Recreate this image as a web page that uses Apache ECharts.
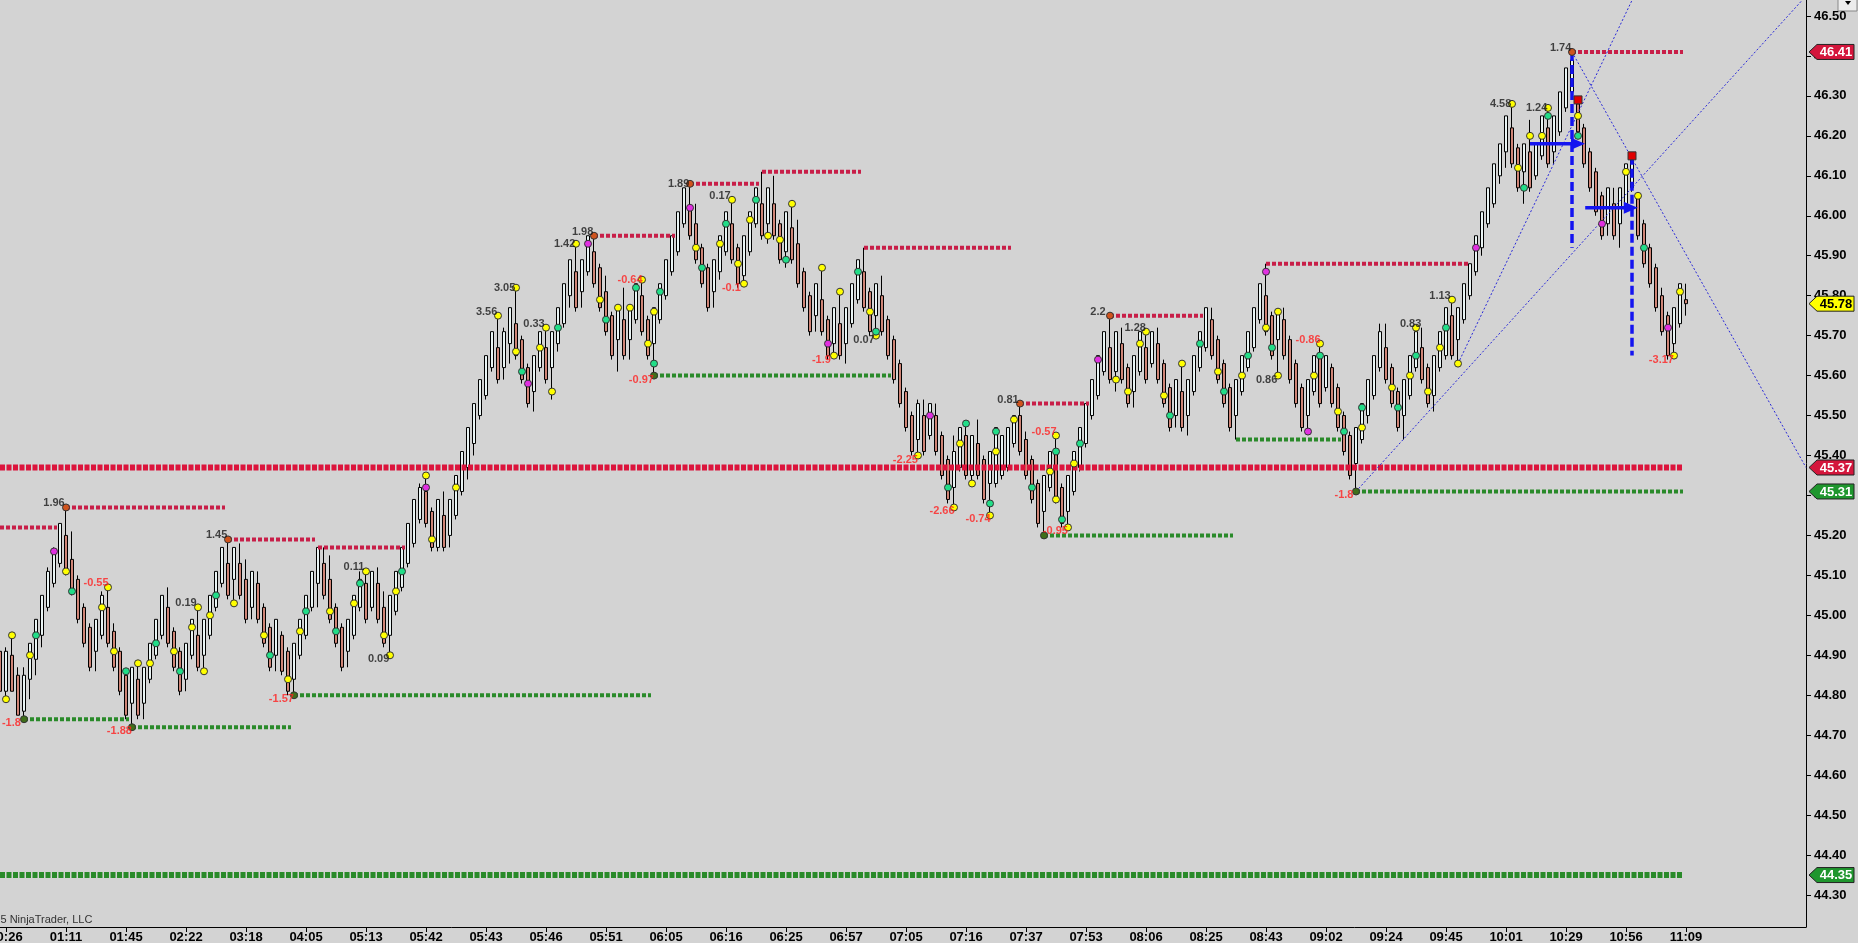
<!DOCTYPE html>
<html>
<head>
<meta charset="utf-8">
<script src="https://cdn.jsdelivr.net/npm/echarts@6/dist/echarts.min.js"></script>
<style>
html,body{margin:0;padding:0;background:#d3d3d3;overflow:hidden;}
#chart{width:1858px;height:943px;}
</style>
</head>
<body>
<div id="chart"></div>
<script>
// ---------- DATA ----------
const tickLabels = ["00:26","01:11","01:45","02:22","03:18","04:05","05:13","05:42","05:43","05:46","05:51","06:05","06:16","06:25","06:57","07:05","07:16","07:37","07:53","08:06","08:25","08:43","09:02","09:24","09:45","10:01","10:29","10:56","11:09"];
const yTicks = [44.30,44.40,44.50,44.60,44.70,44.80,44.90,45.00,45.10,45.20,45.30,45.40,45.50,45.60,45.70,45.80,45.90,46.00,46.10,46.20,46.30,46.40,46.50];

const opens = [
44.91,44.81,44.90,44.85,44.76,44.84,44.89,44.95,45.02,45.08,
45.13,45.20,45.14,45.09,45.02,44.97,44.91,44.95,45.02,44.96,
44.91,44.85,44.78,44.84,44.78,44.84,44.90,44.95,45.02,44.96,
44.91,44.84,44.90,44.95,44.90,44.95,45.02,45.08,45.13,45.09,
45.13,45.09,45.02,45.08,45.02,44.97,44.90,44.95,44.91,44.84,
44.90,44.95,45.02,45.08,45.13,45.09,45.02,44.97,44.91,44.95,
45.02,45.08,45.02,45.08,45.02,44.95,45.01,45.07,45.13,45.18,
45.24,45.31,45.26,45.17,45.25,45.20,45.25,45.31,45.37,45.43,
45.50,45.55,45.62,45.67,45.62,45.68,45.73,45.69,45.62,45.56,
45.62,45.67,45.62,45.68,45.73,45.80,45.86,45.81,45.86,45.91,
45.87,45.81,45.75,45.69,45.74,45.69,45.74,45.80,45.74,45.68,
45.74,45.80,45.86,45.91,45.98,46.02,45.98,45.92,45.87,45.81,
45.86,45.91,45.98,45.92,45.85,45.91,45.98,46.03,45.98,46.03,
45.98,45.91,45.97,45.93,45.86,45.80,45.75,45.79,45.74,45.68,
45.73,45.68,45.73,45.79,45.86,45.81,45.75,45.80,45.74,45.69,
45.63,45.56,45.50,45.44,45.50,45.45,45.50,45.45,45.39,45.32,
45.37,45.45,45.35,45.43,45.39,45.33,45.33,45.35,45.37,45.43,
45.50,45.44,45.39,45.33,45.26,45.32,45.41,45.32,45.26,45.31,
45.37,45.43,45.50,45.55,45.61,45.67,45.61,45.68,45.62,45.56,
45.61,45.67,45.63,45.68,45.63,45.57,45.50,45.56,45.50,45.56,
45.62,45.67,45.74,45.69,45.63,45.57,45.50,45.56,45.62,45.67,
45.74,45.80,45.75,45.69,45.74,45.69,45.63,45.57,45.50,45.56,
45.65,45.57,45.62,45.57,45.50,45.45,45.38,45.44,45.50,45.55,
45.62,45.67,45.62,45.56,45.50,45.55,45.62,45.67,45.62,45.55,
45.62,45.65,45.75,45.69,45.74,45.80,45.86,45.92,45.98,46.03,
46.10,46.16,46.22,46.17,46.11,46.16,46.10,46.15,46.22,46.16,
46.21,46.27,46.31,46.28,46.22,46.16,46.11,46.05,45.98,46.03,
45.98,46.03,46.07,46.05,45.98,45.92,45.87,45.80,45.75,45.68,
45.73,45.79];
const closes = [
44.81,44.91,44.81,44.75,44.85,44.93,44.99,45.05,45.11,45.16,
45.23,45.11,45.06,44.99,44.93,44.87,44.99,45.05,44.93,44.87,
44.81,44.75,44.87,44.75,44.87,44.93,44.99,45.05,44.93,44.87,
44.81,44.93,44.99,44.87,44.99,45.05,45.11,45.17,45.05,45.17,
45.05,44.99,45.11,44.99,44.93,44.87,44.99,44.86,44.81,44.93,
44.99,45.05,45.11,45.17,45.05,44.99,44.93,44.87,44.99,45.05,
45.09,44.99,45.11,44.99,44.93,45.05,45.11,45.17,45.23,45.29,
45.32,45.23,45.17,45.29,45.17,45.29,45.35,45.41,45.47,45.53,
45.59,45.65,45.71,45.59,45.71,45.77,45.65,45.59,45.53,45.65,
45.71,45.59,45.71,45.77,45.83,45.89,45.77,45.89,45.95,45.83,
45.77,45.71,45.65,45.77,45.65,45.77,45.83,45.71,45.65,45.77,
45.83,45.89,45.95,46.01,46.07,45.95,45.89,45.83,45.77,45.89,
45.95,46.01,45.89,45.83,45.95,46.01,46.07,45.95,46.07,45.95,
45.89,46.01,45.89,45.83,45.77,45.71,45.83,45.71,45.65,45.77,
45.65,45.77,45.83,45.89,45.77,45.71,45.83,45.71,45.65,45.59,
45.53,45.47,45.41,45.53,45.41,45.53,45.41,45.35,45.29,45.41,
45.47,45.35,45.45,45.35,45.29,45.41,45.47,45.45,45.47,45.50,
45.41,45.35,45.29,45.23,45.35,45.41,45.29,45.23,45.35,45.41,
45.47,45.53,45.59,45.65,45.71,45.59,45.71,45.59,45.53,45.65,
45.71,45.59,45.71,45.59,45.53,45.47,45.59,45.47,45.59,45.65,
45.71,45.77,45.65,45.59,45.53,45.47,45.59,45.65,45.71,45.77,
45.83,45.71,45.65,45.76,45.65,45.59,45.53,45.47,45.59,45.65,
45.53,45.65,45.53,45.47,45.41,45.35,45.47,45.53,45.59,45.65,
45.71,45.59,45.53,45.47,45.59,45.65,45.71,45.59,45.53,45.65,
45.71,45.77,45.65,45.77,45.83,45.88,45.95,46.01,46.07,46.13,
46.18,46.25,46.13,46.07,46.18,46.07,46.18,46.25,46.13,46.25,
46.31,46.37,46.39,46.21,46.13,46.07,46.01,45.95,46.07,45.95,
46.07,46.13,46.14,45.95,45.88,45.83,45.77,45.71,45.65,45.77,
45.83,45.78];
const highs = [
44.94,44.92,44.95,44.87,44.87,44.93,44.99,45.05,45.12,45.17,
45.23,45.27,45.21,45.10,45.03,44.98,44.99,45.06,45.07,44.98,
44.92,44.86,44.87,44.88,44.87,44.93,44.99,45.05,45.07,44.97,
44.92,44.93,44.99,45.02,44.99,45.05,45.11,45.17,45.19,45.17,
45.18,45.14,45.11,45.11,45.03,44.98,44.99,44.96,44.92,44.93,
44.99,45.05,45.11,45.17,45.17,45.15,45.03,44.98,44.99,45.05,
45.11,45.11,45.11,45.12,45.06,45.05,45.11,45.17,45.23,45.29,
45.33,45.35,45.27,45.29,45.31,45.29,45.35,45.41,45.47,45.53,
45.59,45.65,45.71,45.75,45.72,45.77,45.82,45.70,45.63,45.65,
45.71,45.72,45.71,45.77,45.83,45.89,45.93,45.89,45.95,45.95,
45.88,45.85,45.76,45.77,45.82,45.77,45.83,45.84,45.75,45.77,
45.83,45.89,45.95,46.01,46.07,46.08,46.03,45.93,45.88,45.89,
45.95,46.01,46.04,45.93,45.95,46.01,46.07,46.11,46.07,46.10,
45.99,46.01,46.03,45.99,45.87,45.81,45.83,45.87,45.75,45.77,
45.81,45.77,45.83,45.89,45.92,45.82,45.83,45.85,45.75,45.70,
45.64,45.57,45.51,45.54,45.54,45.53,45.53,45.46,45.40,45.45,
45.47,45.48,45.45,45.49,45.40,45.41,45.47,45.45,45.47,45.50,
45.53,45.46,45.40,45.34,45.35,45.41,45.45,45.33,45.35,45.41,
45.47,45.53,45.59,45.65,45.71,45.75,45.71,45.72,45.63,45.65,
45.71,45.71,45.71,45.72,45.64,45.58,45.59,45.63,45.59,45.65,
45.71,45.77,45.77,45.70,45.64,45.58,45.59,45.65,45.71,45.77,
45.83,45.88,45.76,45.76,45.77,45.70,45.64,45.58,45.59,45.65,
45.68,45.65,45.63,45.58,45.51,45.46,45.47,45.53,45.59,45.65,
45.73,45.73,45.63,45.57,45.59,45.65,45.72,45.72,45.63,45.65,
45.71,45.77,45.79,45.77,45.83,45.88,45.95,46.01,46.07,46.13,
46.18,46.25,46.28,46.18,46.18,46.24,46.18,46.25,46.27,46.25,
46.31,46.37,46.41,46.29,46.23,46.17,46.12,46.06,46.07,46.07,
46.07,46.13,46.15,46.05,45.99,45.93,45.88,45.82,45.76,45.77,
45.83,45.83];
const lows = [
44.80,44.79,44.81,44.75,44.74,44.79,44.85,44.92,45.01,45.07,
45.12,45.10,45.05,44.98,44.92,44.86,44.86,44.94,44.92,44.86,
44.80,44.74,44.72,44.74,44.74,44.83,44.89,44.94,44.92,44.86,
44.80,44.81,44.89,44.86,44.86,44.94,45.01,45.07,45.04,45.03,
45.04,44.98,44.99,44.98,44.92,44.86,44.86,44.85,44.80,44.80,
44.89,44.94,45.01,45.02,45.04,44.98,44.92,44.86,44.87,44.94,
45.01,44.98,45.01,44.98,44.92,44.90,45.00,45.06,45.12,45.17,
45.23,45.22,45.16,45.16,45.16,45.17,45.24,45.30,45.34,45.40,
45.49,45.54,45.61,45.58,45.59,45.63,45.64,45.58,45.52,45.51,
45.61,45.58,45.54,45.66,45.72,45.77,45.76,45.77,45.85,45.82,
45.76,45.70,45.64,45.61,45.64,45.64,45.73,45.70,45.64,45.60,
45.73,45.79,45.85,45.90,45.97,45.94,45.88,45.82,45.76,45.77,
45.84,45.90,45.88,45.82,45.83,45.90,45.97,45.94,45.93,45.94,
45.88,45.87,45.88,45.82,45.76,45.70,45.71,45.70,45.64,45.65,
45.64,45.63,45.72,45.78,45.76,45.70,45.70,45.70,45.64,45.58,
45.52,45.46,45.40,45.40,45.40,45.44,45.40,45.34,45.28,45.27,
45.36,45.34,45.33,45.34,45.28,45.25,45.32,45.34,45.36,45.42,
45.40,45.34,45.28,45.22,45.20,45.31,45.28,45.22,45.22,45.30,
45.36,45.42,45.49,45.54,45.60,45.58,45.56,45.58,45.52,45.52,
45.60,45.58,45.62,45.58,45.52,45.46,45.47,45.46,45.45,45.55,
45.61,45.66,45.64,45.58,45.52,45.46,45.44,45.55,45.61,45.66,
45.73,45.70,45.64,45.60,45.64,45.58,45.52,45.46,45.46,45.55,
45.52,45.56,45.52,45.46,45.40,45.34,45.31,45.43,45.48,45.54,
45.61,45.58,45.52,45.46,45.44,45.54,45.61,45.58,45.52,45.51,
45.61,45.64,45.64,45.63,45.73,45.79,45.85,45.90,45.97,46.02,
46.08,46.12,46.12,46.06,46.03,46.06,46.09,46.14,46.12,46.13,
46.20,46.26,46.30,46.20,46.12,46.06,46.00,45.94,45.95,45.94,
45.92,46.02,46.06,45.94,45.87,45.82,45.76,45.70,45.64,45.65,
45.72,45.75];

const yellowDots = [[1,44.79],[2,44.95],[5,44.90],[11,45.11],[17,45.02],[18,45.07],[19,44.91],[23,44.88],[25,44.88],[29,44.91],[32,44.97],[33,45.02],[34,44.86],[35,45.00],[39,45.03],[44,44.95],[48,44.84],[50,44.96],[55,45.01],[59,45.03],[61,45.11],[64,44.95],[65,44.90],[66,45.06],[71,45.35],[72,45.19],[76,45.32],[83,45.75],[86,45.82],[86,45.66],[90,45.67],[91,45.72],[92,45.56],[96,45.93],[100,45.79],[103,45.77],[105,45.77],[107,45.84],[108,45.68],[109,45.76],[116,45.92],[120,45.93],[122,46.04],[123,45.88],[124,45.83],[125,45.99],[128,45.95],[130,45.94],[132,46.03],[137,45.87],[139,45.65],[140,45.81],[145,45.76],[146,45.70],[153,45.40],[159,45.27],[160,45.43],[162,45.33],[165,45.25],[166,45.41],[169,45.49],[175,45.36],[176,45.45],[176,45.29],[178,45.22],[179,45.38],[186,45.59],[188,45.56],[190,45.68],[191,45.71],[194,45.55],[197,45.63],[203,45.61],[207,45.60],[211,45.72],[213,45.76],[213,45.60],[219,45.60],[220,45.68],[223,45.51],[227,45.47],[232,45.57],[235,45.60],[236,45.72],[238,45.56],[240,45.67],[242,45.79],[243,45.63],[252,46.28],[253,46.12],[255,46.20],[257,46.20],[258,46.27],[263,46.25],[271,46.11],[273,46.05],[279,45.65],[280,45.81]];
const greenDots = [[6,44.95],[12,45.06],[21,44.86],[26,44.93],[30,44.86],[36,45.05],[45,44.90],[51,45.01],[56,44.96],[60,45.08],[67,45.11],[87,45.61],[93,45.72],[101,45.74],[106,45.82],[109,45.63],[110,45.81],[117,45.87],[121,45.98],[126,46.04],[131,45.89],[143,45.86],[146,45.71],[158,45.32],[161,45.48],[165,45.28],[166,45.46],[172,45.32],[176,45.41],[177,45.24],[180,45.43],[195,45.50],[200,45.68],[204,45.56],[208,45.65],[212,45.67],[220,45.65],[224,45.46],[227,45.52],[233,45.52],[236,45.65],[241,45.72],[254,46.07],[258,46.25],[263,46.20],[274,45.92]];
const magentaDots = [[9,45.16],[71,45.32],[88,45.58],[98,45.93],[115,46.02],[138,45.68],[155,45.50],[183,45.64],[211,45.86],[218,45.46],[246,45.92],[267,45.98],[278,45.72]];
const swingHighDots = [[11,45.27],[38,45.19],[99,45.95],[115,46.08],[170,45.53],[185,45.75],[262,46.41]];
const swingLowDots = [[4,44.74],[22,44.72],[49,44.80],[109,45.60],[174,45.20],[226,45.31]];
const redSquares = [[263,46.29],[272,46.15]];

const blackLabels = [["1.96",9.0,45.28],["0.19",31,45.03],["1.45",36.1,45.20],["0.11",59,45.12],["0.09",63.1,44.89],["3.56",81.1,45.76],["3.05",84.1,45.82],["0.33",89,45.73],["1.42",94.1,45.93],["1.98",97.1,45.96],["1.89",113.1,46.08],["0.17",120,46.05],["0.07",144,45.69],["0.81",168,45.54],["2.2",183,45.76],["1.28",189.2,45.72],["0.86",211.1,45.59],["0.83",235.1,45.73],["1.13",240,45.80],["4.58",250.1,46.28],["1.24",256.1,46.27],["1.74",260.1,46.42]];
const redLabels = [["-1.8",1.9,44.73],["-0.55",16,45.08],["-1.88",19.9,44.71],["-1.57",46.9,44.79],["-0.64",105,45.84],["-0.97",106.9,45.59],["-0.1",121.9,45.82],["-1.9",136.9,45.64],["-2.25",150.9,45.39],["-2.66",157,45.26],["-0.74",163,45.24],["-0.57",174,45.46],["-0.95",175.9,45.21],["-0.86",218,45.69],["-1.8",224,45.30],["-3.17",276.9,45.64]];

// [startBar, endBar, price]
const redLevels = [[0,9.5,45.22],[11,37.5,45.27],[38,52.5,45.19],[53,67.5,45.17],[99,112.5,45.95],[115,126.5,46.08],[127,143.5,46.11],[144,168.5,45.92],[170,181.5,45.53],[185,200.5,45.75],[211,245,45.88],[262,280.5,46.41]];
const greenLevels = [[4,21.5,44.74],[22,48.5,44.72],[49,108.5,44.80],[109,148.5,45.60],[174,205.5,45.20],[206,223.5,45.44],[226,280.5,45.31]];
const majorRed = [0,280.5,45.37];
const majorGreen = [0,280.5,44.35];
// [x1, p1, x2, p2]
const trendLines = [[226,45.31,301,46.55],[243,45.63,280,46.79],[262,46.41,301,45.37]];
// [bar, topPrice, bottomPrice]
const vDashes = [[262,46.41,45.92],[272,46.15,45.65]];
// [fromBar, toBar, price]
const arrows = [[255,264.2,46.18],[264.2,273,46.02]];
// [price, fill, text color]
const priceTags = [[46.41,'#d4163c','#ffffff'],[45.78,'#ffff00','#000000'],[45.37,'#d4163c','#ffffff'],[45.31,'#1f962e','#ffffff'],[44.35,'#1f962e','#ffffff']];

// ---------- CHART ----------
const NB = 302;
const categories = Array.from({length: NB}, (_, i) => String(i));
const candleData = opens.map((o, i) => [o, closes[i], lows[i], highs[i]]);
const FONT = '"Liberation Sans", Arial, sans-serif';
const showTick = (i) => i >= 1 && (i - 1) % 10 === 0 && (i - 1) / 10 < tickLabels.length;

const series = [];
series.push({
  type: 'candlestick', xAxisIndex: 0, yAxisIndex: 0, data: candleData, barWidth: 3, z: 2,
  itemStyle: { color: '#eaf4f4', color0: '#cf8476', borderColor: '#000', borderColor0: '#000', borderWidth: 1 },
  silent: true, animation: false
});
function seg(x1, p1, x2, p2, ls, z) {
  series.push({ type: 'line', xAxisIndex: 1, yAxisIndex: 0, data: [[x1, p1], [x2, p2]], symbol: 'none', lineStyle: ls, z: z, silent: true, animation: false });
}
redLevels.forEach(l => seg(l[0], l[2], l[1], l[2], { color: '#c81e48', width: 4, type: [4, 2] }, 3));
greenLevels.forEach(l => seg(l[0], l[2], l[1], l[2], { color: '#2a8a2a', width: 4, type: [4, 2] }, 3));
seg(majorRed[0], majorRed[2], majorRed[1], majorRed[2], { color: '#dc143c', width: 6, type: [5, 1.5] }, 3);
seg(majorGreen[0], majorGreen[2], majorGreen[1], majorGreen[2], { color: '#2a8a2a', width: 6, type: [5, 1.5] }, 3);
trendLines.forEach(t => seg(t[0], t[1], t[2], t[3], { color: '#2828d8', width: 1, type: [2, 2] }, 4));
vDashes.forEach(v => seg(v[0], v[1], v[0], v[2], { color: '#1414f0', width: 3.5, type: [9, 4] }, 4));
arrows.forEach(a => {
  series.push({
    type: 'line', xAxisIndex: 1, yAxisIndex: 0, symbol: 'none', showSymbol: true, z: 4, silent: true, animation: false,
    lineStyle: { color: '#1414f0', width: 3.5 }, itemStyle: { color: '#1414f0' },
    data: [{ value: [a[0], a[2]], symbol: 'none' }, { value: [a[1] - 1.2, a[2]], symbol: 'triangle', symbolSize: [12, 14], symbolRotate: -90 }]
  });
});
function dots(arr, color, size, symbol) {
  series.push({ type: 'scatter', xAxisIndex: 1, yAxisIndex: 0, data: arr, symbol: symbol || 'circle', symbolSize: size, z: 6, silent: true, animation: false,
    itemStyle: { color: color, borderColor: '#333', borderWidth: 1, opacity: 1 } });
}
dots(yellowDots, '#ffff00', 7);
dots(greenDots, '#22dd88', 7);
dots(magentaDots, '#e030e0', 7);
dots(swingHighDots, '#d0541e', 7);
dots(swingLowDots, '#3f6f1a', 7);
dots(redSquares, '#e00000', 8, 'rect');
function texts(arr, color) {
  series.push({ type: 'scatter', xAxisIndex: 1, yAxisIndex: 0, symbolSize: 1, z: 7, silent: true, animation: false,
    itemStyle: { color: 'rgba(0,0,0,0)' },
    data: arr.map(t => ({ name: t[0], value: [t[1], t[2]] })),
    label: { show: true, position: 'inside', formatter: '{b}', color: color, fontSize: 11, fontWeight: 'bold', fontFamily: FONT } });
}
texts(blackLabels, '#1a1a1a');
texts(redLabels, '#ff2020');
series.push({
  type: 'custom', xAxisIndex: 1, yAxisIndex: 0, clip: false, z: 20, silent: true, animation: false,
  data: priceTags.map(t => [NB - 1, t[0]]),
  renderItem: function (params, api) {
    const t = priceTags[params.dataIndex];
    const pt = api.coord([NB - 1, api.value(1)]);
    const x0 = pt[0] + 3, y = pt[1];
    return { type: 'group', children: [
      { type: 'polygon', shape: { points: [[x0, y], [x0 + 8, y - 7.5], [x0 + 45, y - 7.5], [x0 + 45, y + 7.5], [x0 + 8, y + 7.5]] },
        style: { fill: t[1], stroke: '#222', lineWidth: 1 } },
      { type: 'text', style: { text: t[0].toFixed(2), x: x0 + 27, y: y + 0.5, align: 'center', verticalAlign: 'middle', fill: t[2], font: 'bold 13px ' + FONT } }
    ] };
  }
});

const chart = echarts.init(document.getElementById('chart'), null, { renderer: 'canvas' });
chart.setOption({
  backgroundColor: '#d3d3d3',
  animation: false,
  grid: { left: 0, right: 52, top: 0, bottom: 16, containLabel: false, outerBoundsMode: 'none' },
  xAxis: [
    { type: 'category', data: categories, boundaryGap: false,
      axisLine: { show: true, onZero: false, lineStyle: { color: '#000', width: 1 } },
      axisTick: { show: true, interval: (i) => showTick(i), length: 5, lineStyle: { color: '#000' } },
      axisLabel: { interval: (i) => showTick(i), formatter: (v, i) => showTick(i) ? tickLabels[(i - 1) / 10] : '', color: '#000', fontSize: 13, fontWeight: 'bold', fontFamily: FONT, margin: 4 },
      splitLine: { show: false } },
    { type: 'value', min: 0, max: NB - 1, show: false, axisLine: { onZero: false } }
  ],
  yAxis: [
    { type: 'value', position: 'right', min: 44.22, max: 46.54, scale: true,
      axisLine: { show: true, onZero: false, lineStyle: { color: '#000', width: 1 } },
      axisTick: { show: true, length: 5, customValues: yTicks, lineStyle: { color: '#000' } },
      axisLabel: { customValues: yTicks, formatter: (v) => Number(v).toFixed(2), color: '#000', fontSize: 13, fontWeight: 'bold', fontFamily: FONT, margin: 8 },
      splitLine: { show: false } }
  ],
  graphic: [
    { type: 'text', x: -26, y: 914, style: { text: '\u00a92015 NinjaTrader, LLC', fill: '#333', font: '11px ' + FONT } },
    { type: 'rect', shape: { x: 1838, y: -2, width: 19, height: 13 }, style: { fill: '#ececec', stroke: '#888', lineWidth: 1 } },
    { type: 'polygon', shape: { points: [[1845, 1], [1851, 1], [1848, 5]] }, style: { fill: '#000' } }
  ],
  series: series
});
</script>
</body>
</html>
